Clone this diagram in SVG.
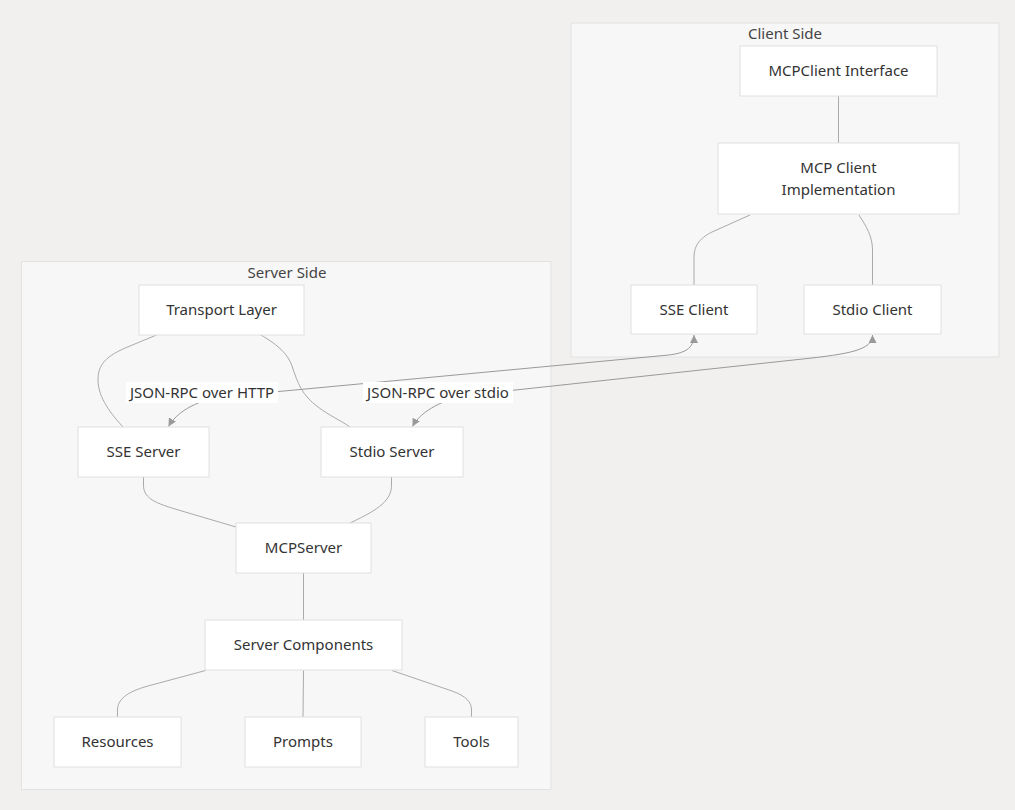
<svg xmlns="http://www.w3.org/2000/svg" width="1015" height="810" viewBox="0 0 1015 810">
<style>
.bg{fill:#f1f0ef}
.cluster{fill:#f7f7f7;stroke:#e2e2e2;stroke-width:1}
.node rect{fill:#ffffff;stroke:#e0e0e0;stroke-width:1}
text{font-family:"Noto Sans","Open Sans","DejaVu Sans",sans-serif;font-size:15px;fill:#333333;text-anchor:middle}
.ctitle{fill:#444444}
.edge{fill:none;stroke:#aaaaaa;stroke-width:1}
.arrow{fill:none;stroke:#999999;stroke-width:1;marker-start:url(#ah);marker-end:url(#ah)}
.lblbg{fill:#ffffff}
</style>
<defs>
<marker id="ah" viewBox="0 0 10 10" refX="10" refY="5" markerUnits="userSpaceOnUse" markerWidth="8" markerHeight="8" orient="auto-start-reverse">
<path d="M0,0 L10,5 L0,10 z" fill="#999999"/>
</marker>
</defs>
<rect class="bg" x="0" y="0" width="1015" height="810"/>

<g id="cluster-client">
<rect class="cluster" x="571" y="23" width="428" height="334"/>
<text class="ctitle" x="785" y="39">Client Side</text>
</g>
<g id="cluster-server">
<rect class="cluster" x="21.5" y="261.5" width="529.5" height="528"/>
<text class="ctitle" x="287" y="278">Server Side</text>
</g>

<g id="connectors">
<path class="edge" d="M838.5,96 L838.5,143"/>
<path class="edge" d="M750,215 L712,232 C698,239 694,247 694,258 L694,285"/>
<path class="edge" d="M859,215 C866,226 872.5,236 872.5,250 L872.5,285"/>
<path class="edge" d="M156.5,335 L130,346 C105,356 98,365 98,380 C98,398 112,415 123,427"/>
<path class="edge" d="M260,334.5 C280,346 288,355 292,366 C298,384 302,395 318,407 C330,416 340,420 350,427"/>
<path class="edge" d="M143.5,477 L143.5,485 C143.5,497 152,502 175,509 L236,527"/>
<path class="edge" d="M391.5,477 L391.5,485 C391.5,500 380,509 350,523"/>
<path class="edge" d="M303.5,573 L303.5,620"/>
<path class="edge" d="M205.5,670.5 L148,686 C126,692 117.5,700 117.5,710 L117.5,717"/>
<path class="edge" d="M303.5,670.5 L303,717"/>
<path class="edge" d="M392,670.5 L452,691 C466,696 471.5,702 471.5,710 L471.5,717"/>
<path class="arrow" d="M168.5,426.5 C176,413 195,401 220,397 L667,355.2 C684,353.4 694,349 694,335"/>
<path class="arrow" d="M412.5,426.5 C420,412 440,402 460,396 L800,359.3 C850,354 872.5,350 872.5,335"/>
<rect class="lblbg" x="126" y="382" width="152" height="21"/>
<text x="202" y="397.5">JSON-RPC over HTTP</text>
<rect class="lblbg" x="363" y="382" width="150" height="21"/>
<text x="438" y="397.5">JSON-RPC over stdio</text>
</g>

<g id="node-mcpclient-interface" class="node">
<rect x="740" y="46" width="197" height="50"/>
<text x="838.5" y="76">MCPClient Interface</text>
</g>
<g id="node-mcp-client-impl" class="node">
<rect x="718" y="143" width="241" height="71"/>
<text x="838.5" y="172.5">MCP Client</text>
<text x="838.5" y="195">Implementation</text>
</g>
<g id="node-sse-client" class="node">
<rect x="631" y="285" width="126" height="49"/>
<text x="694" y="314.5">SSE Client</text>
</g>
<g id="node-stdio-client" class="node">
<rect x="804" y="285" width="137" height="49"/>
<text x="872.5" y="314.5">Stdio Client</text>
</g>
<g id="node-transport-layer" class="node">
<rect x="139" y="285" width="165" height="50"/>
<text x="221.5" y="315">Transport Layer</text>
</g>
<g id="node-sse-server" class="node">
<rect x="78" y="427" width="131" height="50"/>
<text x="143.5" y="457">SSE Server</text>
</g>
<g id="node-stdio-server" class="node">
<rect x="321" y="427" width="142" height="50"/>
<text x="392" y="457">Stdio Server</text>
</g>
<g id="node-mcpserver" class="node">
<rect x="236" y="523" width="135" height="50"/>
<text x="303.5" y="553">MCPServer</text>
</g>
<g id="node-server-components" class="node">
<rect x="205" y="620" width="197" height="50"/>
<text x="303.5" y="650">Server Components</text>
</g>
<g id="node-resources" class="node">
<rect x="54" y="717" width="127" height="50"/>
<text x="117.5" y="747">Resources</text>
</g>
<g id="node-prompts" class="node">
<rect x="245" y="717" width="116" height="50"/>
<text x="303" y="747">Prompts</text>
</g>
<g id="node-tools" class="node">
<rect x="425" y="717" width="93" height="50"/>
<text x="471.5" y="747">Tools</text>
</g>
</svg>
